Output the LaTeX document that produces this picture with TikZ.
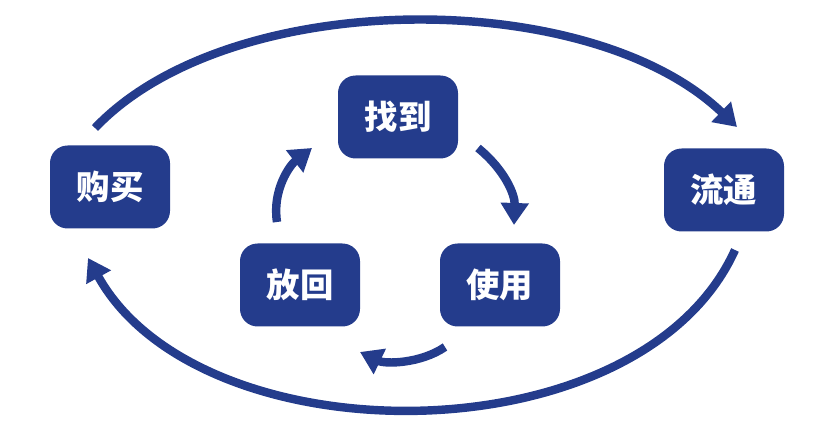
\documentclass[tikz,border=0pt]{standalone}
\usepackage{fontspec}
\newfontfamily\cjk{Noto Sans CJK SC}
\usepackage{tikz}
\usetikzlibrary{arrows.meta}
\definecolor{navy}{RGB}{36,60,140}

\begin{document}
\begin{tikzpicture}[
	box/.style={rectangle,rounded corners=5pt,fill=navy,minimum width=1.2cm,minimum height=0.83cm,inner sep=0pt,text=white,font=\cjk\bfseries\fontsize{9.5pt}{10pt}\selectfont},
	loop/.style={line width=2.4pt,navy,-{Triangle[length=0.22cm,width=0.27cm]}}]
	\useasboundingbox (0,0) rectangle (8.19,4.33);
	%OUTER BOXES
	\node [box] (buy) at (1.10,2.46) {购买};
	\node [box] (flow) at (7.24,2.43) {流通};
	%INNER BOXES
	\node [box] (find) at (3.98,3.16) {找到};
	\node [box] (use) at (5.00,1.48) {使用};
	\node [box] (back) at (3.00,1.48) {放回};
	%OUTER LOOP
	\coordinate (o1) at (0.95,3.05);
	\coordinate (o2) at (7.37,3.06);
	\coordinate (o3) at (7.35,1.83);
	\coordinate (o4) at (0.88,1.75);
	\draw[loop] (o1) .. controls (2.30,4.47) and (5.90,4.47) .. (o2);
	\draw[loop] (o3) .. controls (6.40,-0.27) and (2.00,-0.27) .. (o4);
	%INNER LOOP
	\coordinate (i1) at (4.78,2.85);
	\coordinate (i2) at (5.14,2.08);
	\coordinate (i3) at (4.45,0.86);
	\coordinate (i4) at (3.60,0.81);
	\coordinate (i5) at (2.77,2.11);
	\coordinate (i6) at (3.12,2.85);
	\draw[loop] (i1) .. controls (5.05,2.63) and (5.15,2.38) .. (i2);
	\draw[loop] (i3) .. controls (4.20,0.69) and (3.85,0.69) .. (i4);
	\draw[loop] (i5) .. controls (2.72,2.43) and (2.90,2.68) .. (i6);
\end{tikzpicture}
\end{document}
